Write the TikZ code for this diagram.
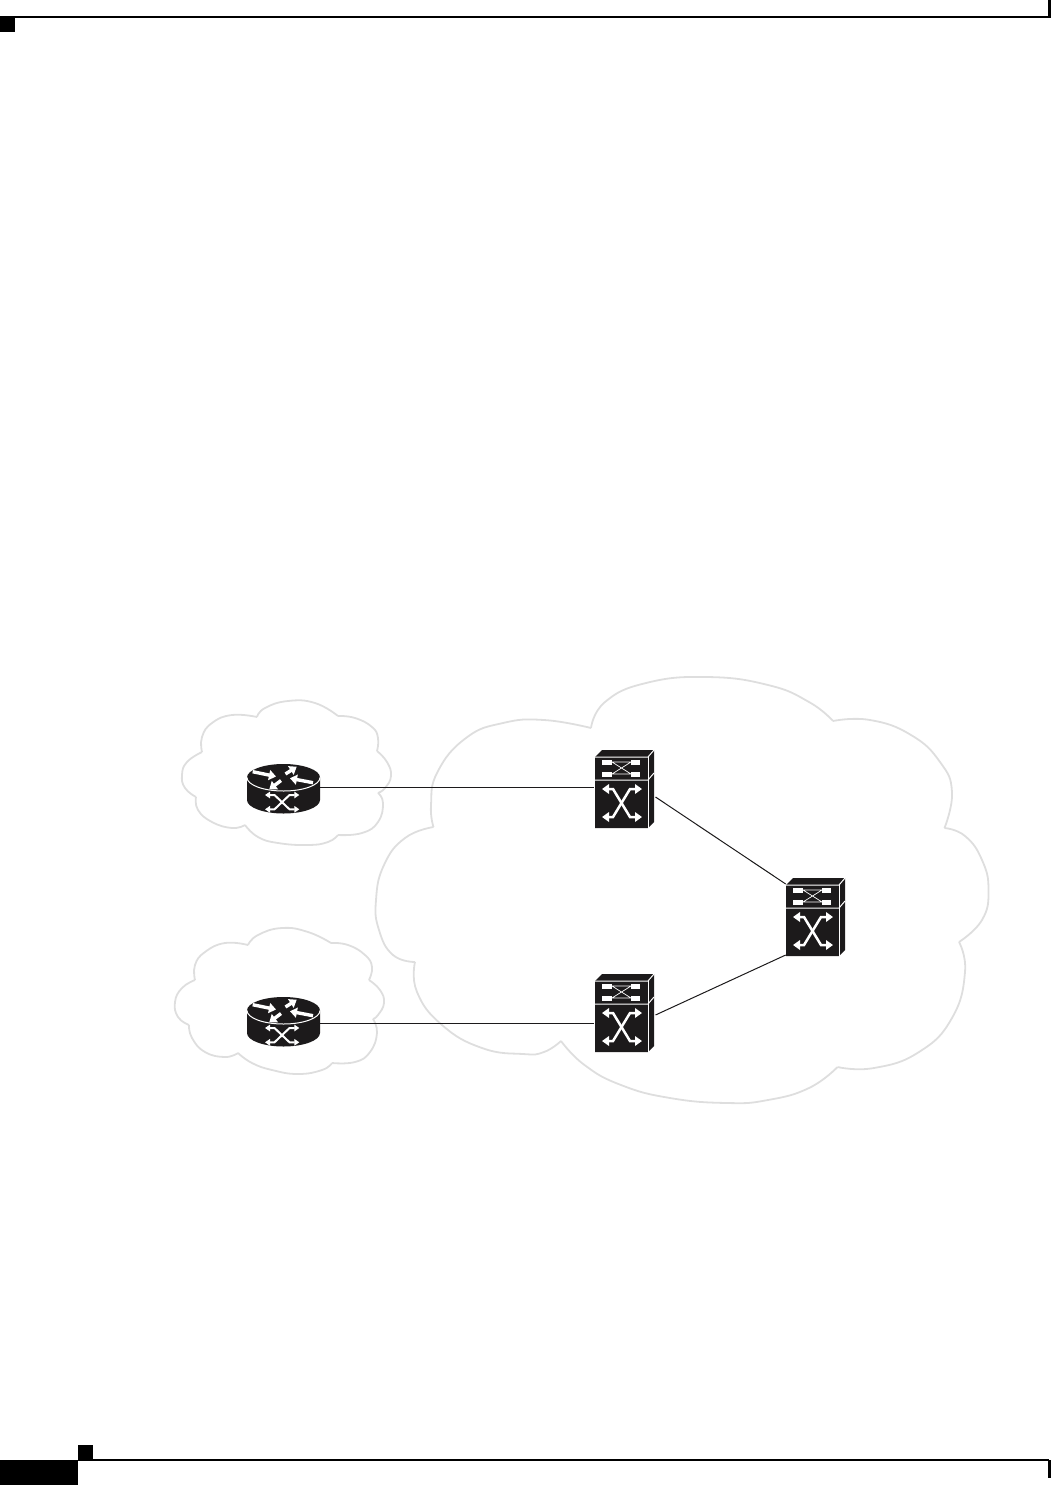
\documentclass[tikz,border=0pt]{standalone}
\usetikzlibrary{arrows.meta}
\definecolor{cloudgray}{HTML}{DEDEDE}
\definecolor{iconblack}{HTML}{1C1A1B}
\tikzset{
  x=1pt,y=-1pt,
  cloudline/.style={draw=cloudgray,line width=1.8pt,line join=round,fill=none},
  link/.style={draw=iconblack,line width=1pt},
  anchorbox/.style={inner sep=0pt,outer sep=0pt,minimum width=#1},
  pagemark/.style={fill=black,draw=none},
  pagerule/.style={draw=black,line width=1.4pt},
  whiteedge/.style={draw=white,line width=1pt},
  bigarrow/.style={draw=white,line width=3.4pt,-{Triangle[length=7pt,width=10pt]}},
  smallarrow/.style={draw=white,line width=2pt,{Triangle[length=5pt,width=6.5pt]}-{Triangle[length=5pt,width=6.5pt]}},
  switcharrow/.style={draw=white,line width=2.5pt,line join=miter,{Triangle[length=7pt,width=9.5pt]}-{Triangle[length=7pt,width=9.5pt]}},
  routericon/.pic={
    \fill[iconblack] (-36.5,-9.5) -- (-36.5,13) arc[start angle=180,end angle=360,x radius=36.5pt,y radius=13.5pt] -- (36.5,-9.5) arc[start angle=0,end angle=180,x radius=36.5pt,y radius=13.5pt] -- cycle;
    \draw[whiteedge] (-36.5,-9.5) arc[start angle=180,end angle=360,x radius=36.5pt,y radius=13.5pt];
    \draw[bigarrow] (-30.8,-15.3) -- (-7.5,-10.5);
    \draw[bigarrow] (2,-13) -- (13.2,-20.3);
    \draw[bigarrow] (29.5,-4.3) -- (6.5,-8.7);
    \draw[bigarrow] (-2.5,-6.5) -- (-14.2,2.3);
    \draw[smallarrow] (-18.5,8) -- (-9,8) -- (6,22.3) -- (15.8,22.3);
    \draw[smallarrow] (15.8,8) -- (6,8) -- (-9,22.3) -- (-18.5,22.3);
  },
  switchicon/.pic={
    \fill[iconblack] (-29.5,-30) -- (-22.5,-37) -- (29.5,-37) -- (29.5,35) -- (23.5,41) -- (-29.5,41) -- cycle;
    \draw[whiteedge] (-29.5,-30) -- (23.5,-30) -- (29.5,-37);
    \draw[whiteedge] (-29.5,-7) -- (23.5,-7) -- (29.5,-14);
    \draw[whiteedge] (23.5,-30) -- (23.5,41);
    \fill[white] (-22.5,-27.5) rectangle (-12.5,-22.5);
    \fill[white] (6.5,-27.5) rectangle (15.5,-22.5);
    \fill[white] (-22.5,-15.5) rectangle (-12.5,-10.5);
    \fill[white] (6.5,-15.5) rectangle (15.5,-10.5);
    \draw[white,line width=0.7pt] (-12.5,-25) -- (6.5,-25) (-12.5,-13) -- (6.5,-13) (-12.5,-25) -- (6.5,-13) (-12.5,-13) -- (6.5,-25);
    \draw[switcharrow] (-22.5,2) -- (-11.5,2) -- (5.5,30) -- (17.5,30);
    \draw[switcharrow] (17.5,2) -- (5.5,2) -- (-11.5,30) -- (-22.5,30);
  }
}
\begin{document}
\begin{tikzpicture}
\useasboundingbox (0,0) rectangle (1051,1485);
% page furniture
\fill[pagemark] (0,17) rectangle (15,32);
\draw[pagerule] (0,17) -- (1049,17);
\fill[pagemark] (1048,0) rectangle (1051,18);
\fill[pagemark] (0,1460) rectangle (78,1485);
\fill[pagemark] (78,1445) rectangle (93,1460);
\draw[pagerule] (78,1460) -- (1049,1460);
\fill[pagemark] (1048,1460) rectangle (1051,1478);
% big cloud
\draw[cloudline] plot[smooth,tension=0.8] coordinates {(591,728) (605,702) (646,683) (707,677) (768,685) (809,702) (833,721)};
\draw[cloudline] plot[smooth,tension=0.8] coordinates {(833,721) (870,720) (911,735) (940,762) (952,792) (944.5,828)};
\draw[cloudline] plot[smooth,tension=0.8] coordinates {(944.5,828) (965,836) (982,860) (988.5,890) (982,920) (959,942)};
\draw[cloudline] plot[smooth,tension=0.8] coordinates {(959,942) (965,972) (952,1018) (919,1052) (874,1068) (837.5,1067)};
\draw[cloudline] plot[smooth,tension=0.8] coordinates {(837.5,1067) (809,1088) (768,1100) (727,1103) (670,1098) (621,1085) (584.5,1065) (561,1041)};
\draw[cloudline] plot[smooth,tension=0.8] coordinates {(561,1041) (544,1052) (523,1054) (482,1048) (442,1025) (417,992) (415,962)};
\draw[cloudline] plot[smooth,tension=0.8] coordinates {(415,962) (393,955) (379,930) (376,900) (384,865) (405,838) (433.5,827)};
\draw[cloudline] plot[smooth,tension=0.8] coordinates {(433.5,827) (431,805) (437.5,772) (466,738) (503,723) (544,720) (591,728)};
% upper small cloud
\draw[cloudline] plot[smooth,tension=0.8] coordinates {(257,717) (265,708) (288,701) (315,703) (338,716)};
\draw[cloudline] plot[smooth,tension=0.8] coordinates {(338,716) (355,718) (372,727) (378,738) (377,751)};
\draw[cloudline] plot[smooth,tension=0.8] coordinates {(377,751) (387,762) (391,776) (385,788) (378,793)};
\draw[cloudline] plot[smooth,tension=0.8] coordinates {(378,793) (383,803) (378,822) (362,833) (338,835)};
\draw[cloudline] plot[smooth,tension=0.8] coordinates {(338,835) (328,842) (308,845) (278,843) (258,837) (245,825)};
\draw[cloudline] plot[smooth,tension=0.8] coordinates {(245,825) (232,828) (212,822) (198,810) (196,797)};
\draw[cloudline] plot[smooth,tension=0.8] coordinates {(196,797) (185,788) (182,775) (187,762) (202,752)};
\draw[cloudline] plot[smooth,tension=0.8] coordinates {(202,752) (202,737) (212,723) (232,715) (257,717)};
% lower small cloud
\draw[cloudline] plot[smooth,tension=0.8] coordinates {(248,945) (258,935) (282,928) (308,932) (331,943)};
\draw[cloudline] plot[smooth,tension=0.8] coordinates {(331,943) (348,945) (365,955) (372,967) (369,980)};
\draw[cloudline] plot[smooth,tension=0.8] coordinates {(369,980) (380,990) (384,1003) (378,1015) (373,1019)};
\draw[cloudline] plot[smooth,tension=0.8] coordinates {(373,1019) (377,1033) (370,1052) (355,1062) (332,1063)};
\draw[cloudline] plot[smooth,tension=0.8] coordinates {(332,1063) (322,1070) (298,1074) (272,1070) (252,1063) (238,1053)};
\draw[cloudline] plot[smooth,tension=0.8] coordinates {(238,1053) (225,1057) (205,1052) (192,1038) (189,1025)};
\draw[cloudline] plot[smooth,tension=0.8] coordinates {(189,1025) (178,1017) (175,1002) (182,988) (195,980)};
\draw[cloudline] plot[smooth,tension=0.8] coordinates {(195,980) (195,965) (205,952) (225,943) (248,945)};
% nodes (invisible frames carrying the icons)
\node[anchorbox=73pt] (r1) at (283.5,787) {};
\node[anchorbox=73pt] (r2) at (283.5,1023) {};
\node[anchorbox=61pt] (s1) at (624.5,787) {};
\node[anchorbox=61pt] (s2) at (624.5,1023) {};
\node[anchorbox=61pt] (s3) at (815.5,915) {};
\coordinate (s1d) at (655.5,797);
\coordinate (s2d) at (655.5,1015);
\coordinate (s3u) at (785.7,884);
\coordinate (s3l) at (785.7,955);
% connectors
\draw[link] (r1.east) -- (s1.west);
\draw[link] (r2.east) -- (s2.west);
\draw[link] (s1d) -- (s3u);
\draw[link] (s2d) -- (s3l);
% icons
\pic at (283.5,787) {routericon};
\pic at (283.5,1020) {routericon};
\pic at (624.5,787) {switchicon};
\pic at (624.5,1011) {switchicon};
\pic at (815.5,915) {switchicon};
\end{tikzpicture}
\end{document}
